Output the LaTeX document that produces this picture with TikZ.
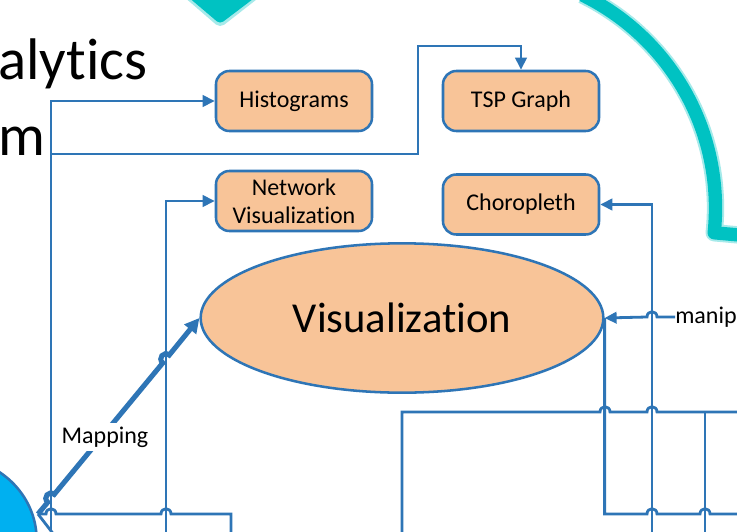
\documentclass[tikz,border=0pt]{standalone}
\usepackage{fontspec}
\setmainfont{Carlito}[Ligatures={NoCommon,NoContextual}]
\usetikzlibrary{arrows.meta,shapes.geometric}

\definecolor{lineblue}{RGB}{46,117,182}
\definecolor{peach}{RGB}{248,196,152}
\definecolor{arcteal}{RGB}{0,194,194}
\definecolor{datablue}{RGB}{0,176,240}

% line jump over a vertical line, on a horizontal line going right
\newcommand{\hopx}[2]{-- ({#1-5},#2) .. controls +(0,-7) and +(0,-7) .. ({#1+5},#2)}

\begin{document}
\begin{tikzpicture}[x=0.75pt, y=-0.75pt,
  box/.style={draw=lineblue, line width=1.9pt, fill=peach, rounded corners=10pt,
    minimum width=117pt, minimum height=45pt, align=center, inner sep=2pt,
    font=\fontsize{18}{21}\selectfont},
  conn/.style={draw=lineblue, line width=2.1pt},
  arrowed/.style={-{Triangle[length=9pt,width=8.5pt]}},
  label/.style={font=\fontsize{18}{21}\selectfont, inner sep=0pt}]
  \useasboundingbox (0,0) rectangle (737,531);
  \fill[white] (0,0) rectangle (737,531);
  \clip (0,0) rectangle (737,531);

  % Cycle arc
  \draw[arcteal!35, line width=13pt, line join=round]
    plot[domain=-64:6, samples=60] ({478.5+237*cos(\x)},{208+237*sin(\x)}) -- (750,236);
  \draw[arcteal, line width=10pt, line join=round]
    plot[domain=-64:6, samples=60] ({478.5+237*cos(\x)},{208+237*sin(\x)}) -- (750,236);
  \fill[arcteal!35, rounded corners=4pt] (183,-4) -- (261,-4) -- (220,28) -- cycle;
  \fill[arcteal, rounded corners=3pt] (187,-4) -- (257,-4) -- (220,24) -- cycle;

  % Title
  \node[anchor=base west, inner sep=0pt, font=\fontsize{44}{53}\selectfont] (ttl1) at (-2,80) {alytics};
  \node[anchor=base west, inner sep=0pt, font=\fontsize{44}{53}\selectfont] (ttl2) at (-2,155) {m};

  % Data source
  \node[ellipse, draw=lineblue, line width=1.9pt, fill=datablue,
    minimum width=130pt, minimum height=124pt] (data) at (-50,540) {};

  % Views
  \node[box] (hist) at (294,101) {Histograms};
  \node[box] (tsp) at (521,101) {TSP Graph};
  \node[box] (net) at (294,201) {Network\\Visualization};
  \node[box] (chor) at (521,204.5) {Choropleth};
  \node[ellipse, draw=lineblue, line width=1.9pt, fill=peach, inner sep=0pt,
    minimum width=302pt, minimum height=112pt,
    font=\fontsize{32}{38}\selectfont] (vis) at (402,318) {Visualization};
  \node[label, anchor=west] (manip) at (675,317) {manip};

  % Free ends
  \coordinate (src) at (38,514);
  \coordinate (j1) at (51,154);
  \coordinate (j2) at (705,412);
  \coordinate (b1) at (51,540);
  \coordinate (b2) at (166,540);
  \coordinate (b3) at (231,540);
  \coordinate (b4) at (402,540);
  \coordinate (b5) at (652,540);
  \coordinate (b6) at (705,540);
  \coordinate (b7) at (58,540);
  \coordinate (e1) at (745,412);
  \coordinate (e2) at (745,514);

  % Left trunk lines
  \draw[conn, arrowed] (b1) |- (hist.west);
  \draw[conn, arrowed] (j1) -| (418,46) -| (tsp.north);
  \draw[conn, arrowed] (b2) |- (net.west);
  \draw[conn] (src) \hopx{51}{514} \hopx{166}{514} -| (b3);
  \draw[conn] (src) -- (b7);

  % Mapping
  \draw[draw=lineblue, line width=3.8pt, -{Triangle[length=11pt,width=11pt]}]
    (src) -- (47.8,502.2) .. controls +(-5.4,-4.5) and +(-5.4,-4.5) .. (54.2,494.4)
    -- (162.8,362.9) .. controls +(-5.4,-4.5) and +(-5.4,-4.5) .. (169.2,355.1)
    -- (vis.west);
  \node[label, fill=white, inner sep=3pt] (maplbl) at (105,437) {Mapping};

  % Right side lines
  \draw[conn] (b4) |- (580,412) \hopx{605}{412} \hopx{652}{412} -- (e1);
  \draw[conn] (j2) -- (b6);
  \draw[conn] (vis.east) |- (630,514) \hopx{652}{514} \hopx{705}{514} -- (e2);
  \draw[conn, arrowed] (b5) |- (chor.east);
  \draw[conn, {Triangle[length=9pt,width=8.5pt]}-] (vis.east) \hopx{652}{317} -- (manip.west);
\end{tikzpicture}
\end{document}
